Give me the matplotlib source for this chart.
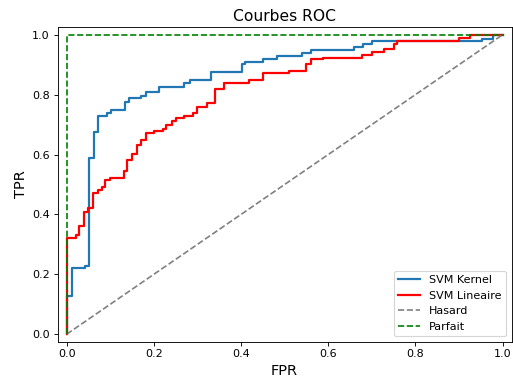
import numpy as np
import matplotlib
matplotlib.use('Agg')
import matplotlib.pyplot as plt

# Step points (fpr where each horizontal run ends, tpr level of that run)
kernel_fpr = [0.0, 0.012, 0.042, 0.052, 0.062, 0.071, 0.092, 0.101, 0.133, 0.142,
              0.171, 0.182, 0.212, 0.270, 0.282, 0.331, 0.402, 0.410, 0.450, 0.482,
              0.540, 0.560, 0.660, 0.680, 0.700, 0.953, 0.979, 1.0]
kernel_tpr = [0.0, 0.128, 0.220, 0.227, 0.590, 0.677, 0.729, 0.738, 0.749, 0.777,
              0.788, 0.796, 0.809, 0.827, 0.840, 0.849, 0.877, 0.903, 0.909, 0.919,
              0.929, 0.939, 0.950, 0.958, 0.969, 0.978, 0.987, 1.0]

lin_fpr = [0.0, 0.022, 0.029, 0.040, 0.050, 0.060, 0.071, 0.081, 0.088, 0.100,
           0.132, 0.138, 0.151, 0.161, 0.171, 0.182, 0.201, 0.220, 0.228, 0.241,
           0.251, 0.270, 0.290, 0.299, 0.322, 0.341, 0.360, 0.419, 0.450, 0.509,
           0.550, 0.560, 0.589, 0.677, 0.700, 0.729, 0.750, 0.758, 0.899, 0.926, 1.0]
lin_tpr = [0.0, 0.322, 0.331, 0.361, 0.409, 0.420, 0.470, 0.482, 0.493, 0.515,
           0.523, 0.545, 0.582, 0.602, 0.632, 0.649, 0.671, 0.680, 0.685, 0.699,
           0.712, 0.721, 0.729, 0.740, 0.760, 0.772, 0.818, 0.840, 0.849, 0.872,
           0.880, 0.902, 0.919, 0.922, 0.931, 0.942, 0.953, 0.970, 0.980, 0.989, 1.0]

fig = plt.figure(figsize=(513 / 80, 380 / 80), dpi=80)
fig.subplots_adjust(left=57.5 / 513, right=511.7 / 513,
                    bottom=(380 - 341.7) / 380, top=(380 - 27.3) / 380)
ax = fig.gca()

ax.plot(kernel_fpr, kernel_tpr, drawstyle='steps-pre', color='#1f77b4', lw=2, label='SVM Kernel')
ax.plot(lin_fpr, lin_tpr, drawstyle='steps-pre', color='red', lw=2, label='SVM Lineaire')
ax.plot([0, 1], [0, 1], '--', color='gray', label='Hasard')
ax.plot([0, 0, 1], [0, 1, 1], '--', color='green', label='Parfait')

ax.set_xlim(-0.021, 1.021)
ax.set_ylim(-0.025, 1.025)
ax.set_xlabel('FPR', fontsize=13)
ax.set_ylabel('TPR', fontsize=13)
ax.set_title('Courbes ROC', fontsize=14)
ax.legend(loc='lower right')

fig.savefig('out.png', dpi=80)
